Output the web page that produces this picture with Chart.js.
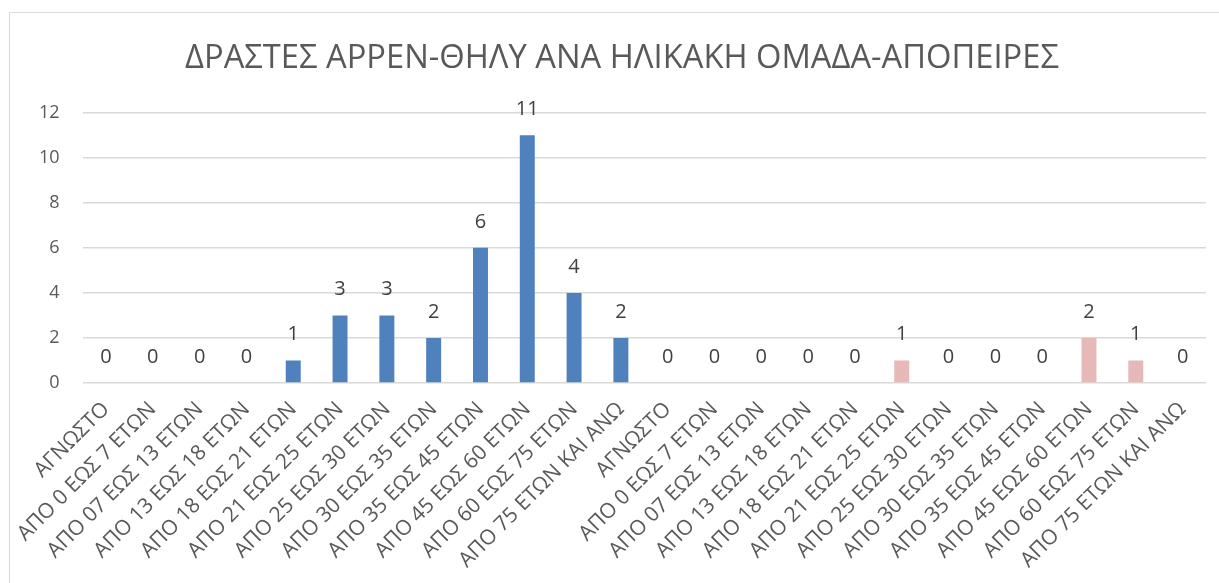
<!DOCTYPE html>
<html>
<head>
<meta charset="utf-8">
<script src="https://cdn.jsdelivr.net/npm/chart.js@4"></script>
<style>
  html, body { margin: 0; padding: 0; background: #fff; overflow: hidden; width: 1219px; height: 583px; }
  #box { position: absolute; left: 9px; top: 12px; width: 1224px; height: 580px; border: 1.5px solid #d9d9d9; box-sizing: border-box; background: #fff; }
  #wrap { position: absolute; left: 0; top: 0; width: 1224px; height: 580px; }
</style>
</head>
<body>
<div id="box"><div id="wrap"><canvas id="c"></canvas></div></div>
<script>
const titleText = "ΔΡΑΣΤΕΣ ΑΡΡΕΝ-ΘΗΛΥ ΑΝΑ ΗΛΙΚΑΚΗ ΟΜΑΔΑ-ΑΠΟΠΕΙΡΕΣ";
const ageGroups = [
  "ΑΓΝΩΣΤΟ", "ΑΠΟ 0 ΕΩΣ 7 ΕΤΩΝ", "ΑΠΟ 07 ΕΩΣ 13 ΕΤΩΝ", "ΑΠΟ 13 ΕΩΣ 18 ΕΤΩΝ",
  "ΑΠΟ 18 ΕΩΣ 21 ΕΤΩΝ", "ΑΠΟ 21 ΕΩΣ 25 ΕΤΩΝ", "ΑΠΟ 25 ΕΩΣ 30 ΕΤΩΝ", "ΑΠΟ 30 ΕΩΣ 35 ΕΤΩΝ",
  "ΑΠΟ 35 ΕΩΣ 45 ΕΤΩΝ", "ΑΠΟ 45 ΕΩΣ 60 ΕΤΩΝ", "ΑΠΟ 60 ΕΩΣ 75 ΕΤΩΝ", "ΑΠΟ 75 ΕΤΩΝ ΚΑΙ ΑΝΩ"
];
const maleValues   = [0, 0, 0, 0, 1, 3, 3, 2, 6, 11, 4, 2];
const femaleValues = [0, 0, 0, 0, 0, 1, 0, 0, 0, 2, 1, 0];
const yTicks = [0, 2, 4, 6, 8, 10, 12];

const maleColor = "#4F81BD";
const femaleColor = "#E6B9B8";
const textColor = "#595959";

const categories = ageGroups.concat(ageGroups);
const values = maleValues.concat(femaleValues);
const barColors = maleValues.map(() => maleColor).concat(femaleValues.map(() => femaleColor));

const FONT = "'Open Sans', 'Noto Sans', sans-serif";

const valueLabels = {
  id: "valueLabels",
  afterDatasetsDraw(chart) {
    const ctx = chart.ctx;
    const meta = chart.getDatasetMeta(0);
    ctx.save();
    ctx.font = "20px " + FONT;
    ctx.fillStyle = "#404040";
    ctx.textAlign = "center";
    ctx.textBaseline = "middle";
    meta.data.forEach((bar, i) => {
      ctx.fillText(String(values[i]), bar.x, bar.y - 26);
    });
    ctx.restore();
  }
};

new Chart(document.getElementById("c"), {
  type: "bar",
  data: {
    labels: categories,
    datasets: [{
      data: values,
      backgroundColor: barColors,
      borderWidth: 0,
      categoryPercentage: 1.0,
      barPercentage: 0.32
    }]
  },
  options: {
    responsive: true,
    maintainAspectRatio: false,
    animation: false,
    devicePixelRatio: 1,
    layout: { padding: { left: 28, right: 28, top: 0, bottom: 0 } },
    plugins: {
      legend: { display: false },
      tooltip: { enabled: false },
      title: {
        display: true,
        text: titleText,
        color: textColor,
        font: { family: FONT, size: 32.7, weight: "normal", lineHeight: 1.2 },
        padding: { top: 25.8, bottom: 34.7 }
      }
    },
    scales: {
      x: {
        offset: true,
        grid: { display: false },
        border: { display: false },
        ticks: {
          color: textColor,
          font: { family: FONT, size: 21 },
          minRotation: 45,
          maxRotation: 45,
          autoSkip: false,
          padding: 6
        },
        afterFit(scale) { scale.height = 580 - 370; }
      },
      y: {
        min: 0,
        max: 12,
        afterBuildTicks(scale) { scale.ticks = yTicks.map(v => ({ value: v })); },
        grid: { color: "#d9d9d9", lineWidth: 1.5, drawTicks: false },
        border: { display: false },
        ticks: {
          color: textColor,
          font: { family: FONT, size: 18 },
          padding: 23
        },
        afterFit(scale) { scale.width = 72.6 - 28; }
      }
    }
  },
  plugins: [valueLabels]
});
</script>
</body>
</html>
